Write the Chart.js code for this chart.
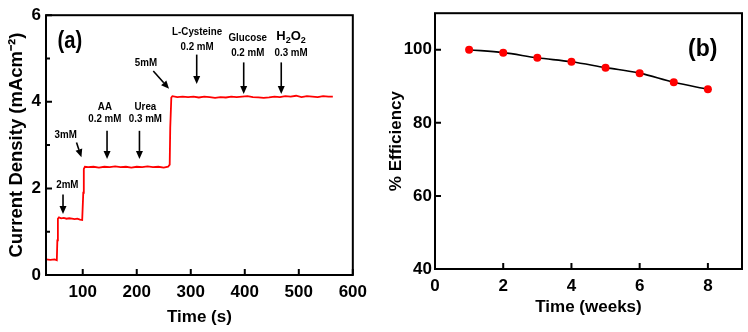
<!DOCTYPE html>
<html><head><meta charset="utf-8">
<script src="https://cdn.jsdelivr.net/npm/chart.js@4/dist/chart.umd.min.js"></script>
<style>
html,body{margin:0;padding:0;background:#fff;}
#wa{position:absolute;left:0;top:0;width:374px;height:332px;}
#wb{position:absolute;left:374px;top:0;width:374px;height:332px;}
</style></head><body>
<div id="wa"><canvas id="ca" width="374" height="332"></canvas></div>
<div id="wb"><canvas id="cb" width="374" height="332"></canvas></div>
<script>
// ---- Panel (a) data: amperometric response ----
const timeA = [32,40,48,52,53,54,56,60,65,70,75,80,85,90,95,99,101,102,104,110,120,130,140,150,160,170,180,190,200,210,220,230,240,250,258,261,262,264,266,275,285,295,305,315,325,335,345,355,365,375,385,395,405,415,425,435,445,455,465,475,485,495,505,515,525,535,545,555,563];
const currentA = [0.36,0.35,0.36,0.34,0.80,1.30,1.33,1.31,1.32,1.30,1.31,1.30,1.29,1.30,1.28,1.27,1.90,2.45,2.50,2.49,2.50,2.48,2.50,2.49,2.51,2.49,2.50,2.48,2.50,2.49,2.51,2.49,2.50,2.48,2.50,2.55,3.40,4.10,4.13,4.11,4.12,4.11,4.12,4.10,4.12,4.11,4.09,4.11,4.10,4.12,4.11,4.12,4.13,4.11,4.10,4.09,4.10,4.12,4.11,4.13,4.12,4.14,4.11,4.13,4.12,4.11,4.13,4.12,4.12];
const xTicksA = [100,200,300,400,500,600];
const yTicksA = [0,2,4,6];
const yMinorA = [1,3,5];
const annLabels = [["2mM"],["3mM"],["AA","0.2 mM"],["Urea","0.3 mM"],["5mM"],["L-Cysteine","0.2 mM"],["Glucose","0.2 mM"],["H₂O₂","0.3 mM"]];
const annLabelX = [71.5,68.4,141,216,217,311.7,405.5,485.7];
const annLabelY = [[2.08],[3.24],[3.89,3.60],[3.89,3.60],[4.89],[5.61,5.27],[5.48,5.14],[5.50,5.14]];
const arrowFrom = [[63.5,1.86],[88.5,3.06],[145,3.33],[205,3.33],[230.6,4.71],[311,5.09],[398,4.91],[467.5,4.91]];
const arrowTo = [[63.5,1.41],[97.6,2.72],[145,2.68],[205,2.68],[259.8,4.30],[311,4.41],[398,4.18],[467.5,4.18]];

// ---- Panel (b) data: stability ----
const weeks = [1,2,3,4,5,6,7,8];
const efficiency = [100,99.2,97.8,96.7,95.1,93.6,91.1,89.2];
const xTicksB = [0,2,4,6,8];
const yTicksB = [40,60,80,100];

const BOLD = 'bold';
const FAM = '"Liberation Sans", Arial, sans-serif';

const frameTicks = {
  id: 'frameTicks',
  afterDraw(chart, args, o) {
    const {ctx, chartArea: ca, scales: {x, y}} = chart;
    ctx.save();
    ctx.strokeStyle = '#000';
    ctx.lineWidth = 2;
    ctx.beginPath();
    (o.xMajor || []).forEach(v => { const p = x.getPixelForValue(v); ctx.moveTo(p, ca.bottom); ctx.lineTo(p, ca.bottom - 6); });
    (o.yMajor || []).forEach(v => { const p = y.getPixelForValue(v); ctx.moveTo(ca.left, p); ctx.lineTo(ca.left + 6, p); });
    (o.yMinor || []).forEach(v => { const p = y.getPixelForValue(v); ctx.moveTo(ca.left, p); ctx.lineTo(ca.left + 4, p); });
    ctx.stroke();
    ctx.strokeRect(ca.left, ca.top, ca.right - ca.left, ca.bottom - ca.top);
    ctx.restore();
  }
};

function drawArrow(ctx, x1, y1, x2, y2) {
  const ang = Math.atan2(y2 - y1, x2 - x1);
  const hl = 8, hw = 3.5;
  const bx = x2 - hl * Math.cos(ang), by = y2 - hl * Math.sin(ang);
  ctx.beginPath();
  ctx.moveTo(x1, y1); ctx.lineTo(bx, by);
  ctx.stroke();
  ctx.beginPath();
  ctx.moveTo(x2, y2);
  ctx.lineTo(bx + hw * Math.sin(ang), by - hw * Math.cos(ang));
  ctx.lineTo(bx - hw * Math.sin(ang), by + hw * Math.cos(ang));
  ctx.closePath();
  ctx.fill();
}

const SUBS = '₀₁₂₃₄₅₆₇₈₉';
function drawLabel(ctx, text, cx, cy) {
  if (/[₀-₉]/.test(text)) {
    // chemical formula: normal width, subscript digits smaller and lowered
    const big = 'bold 13px ' + FAM, small = 'bold 9px ' + FAM;
    const parts = [...text].map(ch => {
      const k = SUBS.indexOf(ch);
      return k >= 0 ? {t: String(k), f: small, dy: 4} : {t: ch, f: big, dy: 0};
    });
    let w = 0;
    parts.forEach(p => { ctx.font = p.f; p.w = ctx.measureText(p.t).width; w += p.w; });
    let xx = cx - w / 2;
    ctx.textAlign = 'left';
    parts.forEach(p => { ctx.font = p.f; ctx.fillText(p.t, xx, cy + p.dy); xx += p.w; });
    ctx.textAlign = 'center';
  } else {
    ctx.save();
    ctx.font = 'bold 11.5px ' + FAM;
    ctx.translate(cx, cy);
    ctx.scale(0.85, 1);
    ctx.fillText(text, 0, 0);
    ctx.restore();
  }
}

const annotA = {
  id: 'annotA',
  afterDraw(chart) {
    const {ctx, scales: {x, y}} = chart;
    ctx.save();
    ctx.fillStyle = '#000'; ctx.strokeStyle = '#000'; ctx.lineWidth = 1.6;
    ctx.textAlign = 'center'; ctx.textBaseline = 'middle';
    annLabels.forEach((lines, i) => {
      lines.forEach((t, j) => drawLabel(ctx, t, x.getPixelForValue(annLabelX[i]), y.getPixelForValue(annLabelY[i][j])));
      drawArrow(ctx, x.getPixelForValue(arrowFrom[i][0]), y.getPixelForValue(arrowFrom[i][1]),
                     x.getPixelForValue(arrowTo[i][0]), y.getPixelForValue(arrowTo[i][1]));
    });
    ctx.save();
    ctx.font = 'bold 23px ' + FAM;
    ctx.translate(x.getPixelForValue(76), y.getPixelForValue(5.40));
    ctx.scale(0.88, 1);
    ctx.fillText('(a)', 0, 0);
    ctx.restore();
    ctx.restore();
  }
};

const annotB = {
  id: 'annotB',
  afterDraw(chart) {
    const {ctx, scales: {x, y}} = chart;
    ctx.save();
    ctx.fillStyle = '#000';
    ctx.textAlign = 'center'; ctx.textBaseline = 'middle';
    ctx.font = 'bold 23px ' + FAM;
    ctx.fillText('(b)', x.getPixelForValue(7.85), y.getPixelForValue(100));
    ctx.restore();
  }
};

const tickFont = {family: FAM, size: 17, weight: BOLD};
const titleFont = {family: FAM, size: 17, weight: BOLD};

new Chart(document.getElementById('ca'), {
  type: 'line',
  data: {
    datasets: [{
      data: timeA.map((t, i) => ({x: t, y: currentA[i]})),
      borderColor: '#ff0000', borderWidth: 1.8, pointRadius: 0, tension: 0, fill: false
    }]
  },
  options: {
    responsive: false, animation: false, devicePixelRatio: 1,
    layout: {padding: {left: 6, right: 16, top: 10, bottom: 0}},
    plugins: {legend: {display: false}, tooltip: {enabled: false},
      frameTicks: {xMajor: xTicksA, yMajor: yTicksA, yMinor: yMinorA}},
    scales: {
      x: {
        type: 'linear', min: 32, max: 600,
        afterBuildTicks: s => { s.ticks = xTicksA.map(v => ({value: v})); },
        afterFit: s => { s.height = 57; },
        grid: {display: false, drawTicks: false},
        border: {display: false},
        ticks: {font: tickFont, color: '#000', padding: 7, maxRotation: 0},
        title: {display: true, text: 'Time (s)', font: titleFont, color: '#000', padding: {top: 0, bottom: 4}}
      },
      y: {
        type: 'linear', min: 0, max: 6,
        afterBuildTicks: s => { s.ticks = yTicksA.map(v => ({value: v})); },
        afterFit: s => { s.width = 40; },
        grid: {display: false, drawTicks: false},
        border: {display: false},
        ticks: {font: tickFont, color: '#000', padding: 5},
        title: {display: true, text: 'Current Density (mAcm⁻²)', font: {family: FAM, size: 18.5, weight: BOLD}, color: '#000', padding: {top: 0, bottom: 0}}
      }
    }
  },
  plugins: [frameTicks, annotA]
});

new Chart(document.getElementById('cb'), {
  type: 'line',
  data: {
    datasets: [{
      data: weeks.map((w, i) => ({x: w, y: efficiency[i]})),
      borderColor: '#000', borderWidth: 1.6, tension: 0.35,
      pointRadius: 4, pointBackgroundColor: '#ff0000', pointBorderColor: '#ff0000', pointBorderWidth: 0, fill: false
    }]
  },
  options: {
    responsive: false, animation: false, devicePixelRatio: 1,
    layout: {padding: {left: 12, right: 6, top: 9, bottom: 0}},
    plugins: {legend: {display: false}, tooltip: {enabled: false},
      frameTicks: {xMajor: xTicksB, yMajor: yTicksB}},
    scales: {
      x: {
        type: 'linear', min: 0, max: 9,
        afterBuildTicks: s => { s.ticks = xTicksB.map(v => ({value: v})); },
        afterFit: s => { s.height = 63; },
        grid: {display: false, drawTicks: false},
        border: {display: false},
        ticks: {font: tickFont, color: '#000', padding: 7, maxRotation: 0},
        title: {display: true, text: 'Time (weeks)', font: titleFont, color: '#000', padding: {top: 0, bottom: 14}}
      },
      y: {
        type: 'linear', min: 40, max: 110,
        afterBuildTicks: s => { s.ticks = yTicksB.map(v => ({value: v})); },
        afterFit: s => { s.width = 49; },
        grid: {display: false, drawTicks: false},
        border: {display: false},
        ticks: {font: tickFont, color: '#000', padding: 3},
        title: {display: true, text: '% Efficiency', font: titleFont, color: '#000', padding: {top: 0, bottom: 0}}
      }
    }
  },
  plugins: [frameTicks, annotB]
});
</script>
</body></html>
